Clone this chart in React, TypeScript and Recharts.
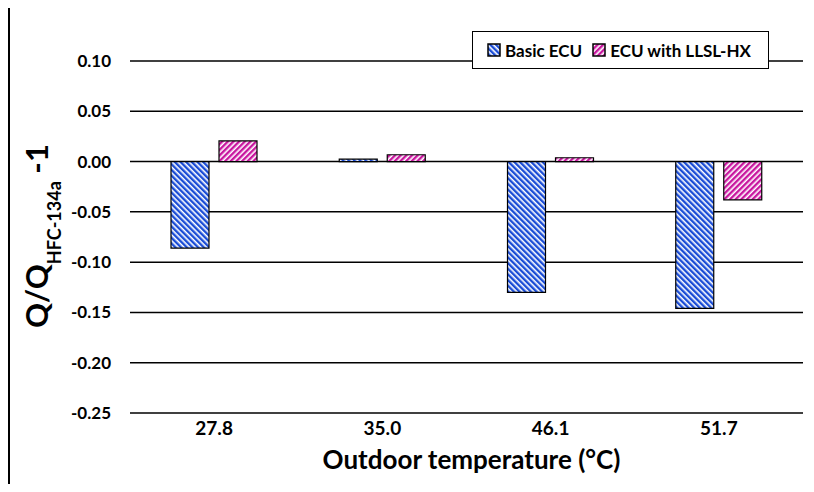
import { Bar, BarChart, CartesianGrid, Customized, XAxis, YAxis } from "recharts";

const temps = ["27.8", "35.0", "46.1", "51.7"];
const basicEcu = [-0.086, 0.0024, -0.13, -0.146];
const llslHx = [0.0205, 0.0068, 0.0038, -0.038];
const yTicks = [-0.25, -0.2, -0.15, -0.1, -0.05, 0, 0.05, 0.1];

const data = temps.map((t, i) => ({ temp: t, basic: basicEcu[i], llsl: llslHx[i] }));

const BLUE = "#1a4cd6";
const PINK = "#c8169f";
const FONT = "Lato, 'Open Sans', sans-serif";

function LegendBox() {
  const item = (fill: string, label: string) => (
    <span style={{ display: "inline-flex", alignItems: "center", marginRight: 10 }}>
      <svg width={14} height={14} style={{ marginRight: 4 }}>
        <rect x={1} y={1} width={12} height={12} fill={fill} stroke="#000" strokeWidth={1.5} />
      </svg>
      {label}
    </span>
  );
  return (
    <div
      style={{
        position: "absolute", left: 472, top: 31,
        width: 297, height: 38, boxSizing: "border-box", border: "1.5px solid #000", background: "#fff",
        display: "flex", alignItems: "center", paddingLeft: 14,
        fontFamily: FONT, fontWeight: 700, fontSize: 17, color: "#000",
      }}
    >
      {item("url(#hatchBlue)", "Basic ECU")}
      {item("url(#hatchPink)", "ECU with LLSL-HX")}
    </div>
  );
}

function YTitle() {
  return (
    <g transform="translate(48,236) rotate(-90)">
      <text x={0} y={0} textAnchor="middle" fontFamily={FONT} fontWeight={700} fontSize={31} fill="#000">
        Q/Q
        <tspan fontSize={18} dy={13}>HFC-134a</tspan>
        <tspan dy={-13}> -1</tspan>
      </text>
    </g>
  );
}

// outer chart-area frame, only its top-left corner falls inside the picture
const Frame = () => <path d="M9,600 V7 H900" fill="none" stroke="#000" strokeWidth={2} />;

export default function App() {
  return (
    <div style={{ margin: -8, width: 814, height: 492, position: "relative", overflow: "hidden", background: "#fff" }}>
      <BarChart
        width={814}
        height={492}
        data={data}
        margin={{ top: 61, right: 11, bottom: 49, left: 0 }}
        barSize={38}
        barGap={10}
      >
        <defs>
          <pattern id="hatchBlue" patternUnits="userSpaceOnUse" width={4} height={4} patternTransform="rotate(-45)">
            <rect width={4} height={4} fill="#fff" />
            <rect width={2.4} height={4} fill={BLUE} />
          </pattern>
          <pattern id="hatchPink" patternUnits="userSpaceOnUse" width={4} height={4} patternTransform="rotate(45)">
            <rect width={4} height={4} fill="#fff" />
            <rect width={2.4} height={4} fill={PINK} />
          </pattern>
        </defs>
        <CartesianGrid vertical={false} stroke="#000" strokeWidth={1.5} />
        <XAxis
          dataKey="temp"
          height={30}
          axisLine={false}
          tickLine={false}
          tickSize={0}
          tickMargin={9}
          tick={{ fill: "#000", fontFamily: FONT, fontWeight: 700, fontSize: 19 }}
          label={{
            value: "Outdoor temperature (°C)", position: "bottom", offset: 8, dx: 5,
            style: { fill: "#000", fontFamily: FONT, fontWeight: 700, fontSize: 26 },
          }}
        />
        <YAxis
          width={130}
          domain={[-0.25, 0.1]}
          ticks={yTicks}
          axisLine={false}
          tickLine={false}
          tickSize={0}
          tickMargin={19}
          tickFormatter={(v: number) => v.toFixed(2)}
          tick={{ fill: "#000", fontFamily: FONT, fontWeight: 700, fontSize: 17 }}
          label={{ content: () => <YTitle /> }}
        />
        <Bar dataKey="basic" name="Basic ECU" fill="url(#hatchBlue)" stroke="#000" strokeWidth={1.2} isAnimationActive={false} />
        <Bar dataKey="llsl" name="ECU with LLSL-HX" fill="url(#hatchPink)" stroke="#000" strokeWidth={1.2} isAnimationActive={false} />
        <Customized component={Frame} />
      </BarChart>
      <LegendBox />
    </div>
  );
}
